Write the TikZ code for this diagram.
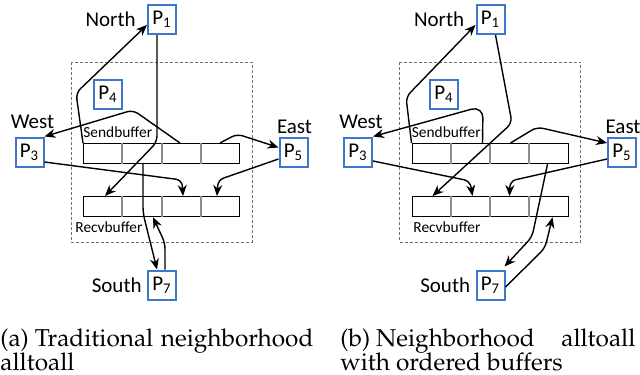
\documentclass[tikz,border=0pt]{standalone}
\usepackage[T1]{fontenc}
\usepackage{fontspec}
\setsansfont{Carlito}
\definecolor{mProcBlue}{HTML}{3B78CC}
\definecolor{mBufGray}{HTML}{8C8C8C}
\definecolor{mBoxGray}{HTML}{6E6E6E}
\usetikzlibrary{positioning,arrows.meta,calc}

\begin{document}
\begin{tikzpicture}[x=0.5pt,y=-0.5pt,
  font=\sffamily\fontsize{10.5}{12}\selectfont,
  proc/.style={draw=mProcBlue, line width=1pt, minimum width=14pt, minimum height=14.5pt, inner sep=0pt},
  dir/.style={inner sep=0pt},
  buf/.style={draw=black, line width=0.6pt, minimum width=78pt, minimum height=10pt, inner sep=0pt, anchor=north west},
  buflabel/.style={inner sep=0pt, anchor=base west, font=\sffamily\fontsize{7.7}{9}\selectfont},
  arr/.style={-{Stealth[length=5.5pt,width=4.5pt]}, line width=0.7pt, rounded corners=3pt},
  capt/.style={inner sep=0pt, anchor=base west, font=\fontencoding{T1}\fontfamily{ppl}\fontsize{12.2}{15}\selectfont}
]
\useasboundingbox (0,0) rectangle (640,374);
% layout shared by both panels
\foreach \pf/\dx/\fx/\rx in {a/0/108/75, b/328.5/444/413} {
  \draw[mBoxGray, line width=0.45pt, dash pattern=on 1.5pt off 1pt] (\dx+71,62) rectangle (\dx+252,242);
  \node[proc] (\pf-p1) at (\dx+162,19.5) {P\textsubscript{1}};
  \node[proc] (\pf-p3) at (\dx+29.5,152) {P\textsubscript{3}};
  \node[proc] (\pf-p4) at (\fx,94.5) {P\textsubscript{4}};
  \node[proc] (\pf-p5) at (\dx+293.5,152.5) {P\textsubscript{5}};
  \node[proc] (\pf-p7) at (\dx+162,285) {P\textsubscript{7}};
  \node[dir, left=5.5pt of \pf-p1] (\pf-north) {North};
  \node[dir, above=3.5pt of \pf-p3, xshift=1.5pt] (\pf-west) {West};
  \node[dir, above=1.5pt of \pf-p5, xshift=0.5pt] (\pf-east) {East};
  \node[dir, left=2.5pt of \pf-p7] (\pf-south) {South};
  \node[buf] (\pf-s) at (\dx+83,143) {};
  \node[buf] (\pf-r) at (\dx+83,196) {};
  \foreach \b in {s,r}
    \foreach \k in {1,2,3}
      \draw[mBufGray, line width=1pt] ($(\pf-\b.north west)!\k/4!(\pf-\b.north east)$) -- ($(\pf-\b.south west)!\k/4!(\pf-\b.south east)$);
  \node[buflabel] (\pf-sl) at (\dx+83,137) {Sendbuffer};
  \node[buflabel] (\pf-rl) at (\rx,232) {Recvbuffer};
}
% (a) traditional exchange
\draw[arr] (a-s.north west) -- (76,93) -- (a-p1.200);
\draw[arr] ($(a-p1.south)+(-5,0)$) -- (157,142) -- ($(a-r.north west)+(22,0)$);
\draw[arr] ($(a-s.north west)+(97,0)$) -- (133,110) -- (a-p3.north east);
\draw[arr] ($(a-s.north west)+(137,0)$) -- (237,134) -- ($(a-p5.west)+(0,-5)$);
\draw[arr] ($(a-p3.east)+(0,10)$) -- (182,180) -- ($(a-r.north west)+(100,0)$);
\draw[arr] ($(a-p5.west)+(0,6.5)$) -- (218,180) -- ($(a-r.north west)+(134,0)$);
\draw[arr] ($(a-s.south west)+(60,0)$) -- (143,213) -- ($(a-p7.north)+(-5,0)$);
\draw[arr] ($(a-p7.north)+(3,0)$) -- (165,243) -- ($(a-r.south west)+(70,0)$);
% (b) ordered buffers
\draw[arr] (b-s.north west) -- (406,97) -- (b-p1.200);
\draw[arr] ($(b-p1.south)+(5,0)$) -- (512,123) -- ($(b-r.north west)+(21,0)$);
\draw[arr, rounded corners=6pt] ($(b-s.north west)+(71,0)$) -- (483,106) -- (b-p3.north east);
\draw[arr] ($(b-s.north west)+(99,0)$) -- (537,127) -- ($(b-p5.west)+(0,-9.5)$);
\draw[arr] ($(b-p3.east)+(0,9)$) -- (470,181) -- ($(b-r.north west)+(61,0)$);
\draw[arr] ($(b-p5.west)+(0,6.5)$) -- (510,181) -- ($(b-r.north west)+(98,0)$);
\draw[arr] ($(b-s.south west)+(136,0)$) -- (532,237) -- ($(b-p7.north east)+(-1,-3)$);
\draw[arr] ($(b-p7.east)+(0,2)$) -- (545,248) -- ($(b-r.south west)+(141,0)$);
% captions
\node[capt] (cap-a1) at (0,346) {\makebox[156.5pt][s]{(a)\hspace{3pt}Traditional neighborhood}};
\node[capt] (cap-a2) at (0,370) {alltoall};
\node[capt] (cap-b1) at (340,346) {\makebox[147.5pt][s]{(b)\hspace{3pt}Neighborhood alltoall}};
\node[capt] (cap-b2) at (340,370) {with ordered buffers};
\end{tikzpicture}
\end{document}
